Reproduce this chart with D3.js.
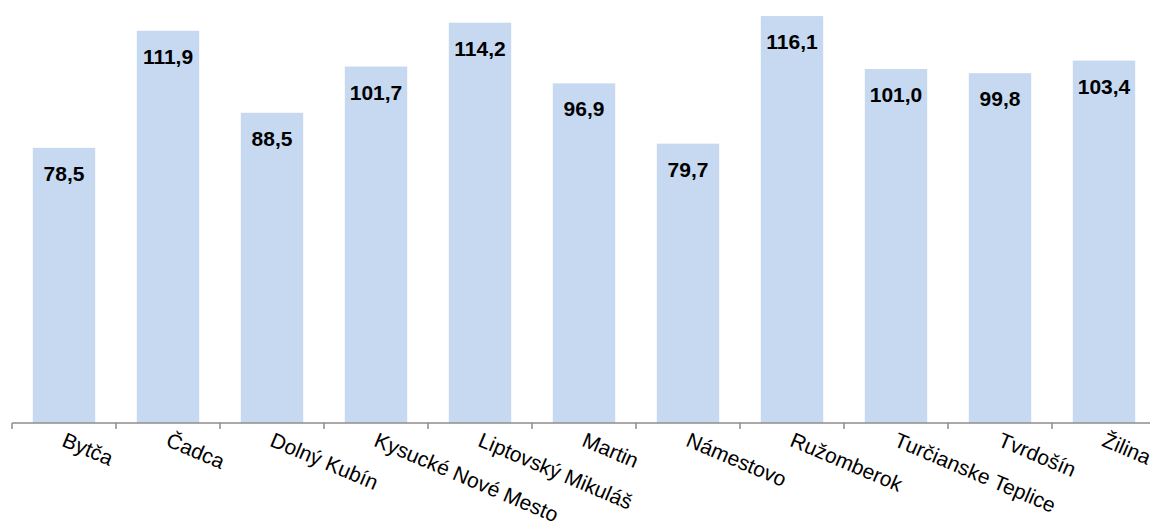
<!DOCTYPE html>
<html>
<head>
<meta charset="utf-8">
<script src="https://cdn.jsdelivr.net/npm/d3@7/dist/d3.min.js"></script>
<style>
  html, body { margin: 0; padding: 0; background: #fff; }
  svg { display: block; }
</style>
</head>
<body>
<svg id="chart" width="1150" height="523"></svg>
<script>
const categories = ["Bytča", "Čadca", "Dolný Kubín", "Kysucké Nové Mesto", "Liptovský Mikuláš", "Martin", "Námestovo", "Ružomberok", "Turčianske Teplice", "Tvrdošín", "Žilina"];
const values = [78.5, 111.9, 88.5, 101.7, 114.2, 96.9, 79.7, 116.1, 101.0, 99.8, 103.4];
const yDomain = [0, 120];

const svg = d3.select("#chart");
const baseY = 423;
const x = d3.scaleBand().domain(categories).range([12, 1156]).paddingInner(0.4).paddingOuter(0.2);
const y = d3.scaleLinear().domain(yDomain).range([baseY, 2.4]);
const fmt = v => d3.format(".1f")(v).replace(".", ",");

svg.append("g").selectAll("rect").data(values).join("rect")
  .attr("x", (d, i) => x(categories[i]))
  .attr("y", d => y(d))
  .attr("width", x.bandwidth())
  .attr("height", d => y(0) - y(d))
  .attr("fill", "#c6d9f1");

svg.append("g").selectAll("text").data(values).join("text")
  .attr("x", (d, i) => x(categories[i]) + x.bandwidth() / 2)
  .attr("y", d => y(d) + 33)
  .attr("text-anchor", "middle")
  .attr("font-family", "Liberation Sans, Arial, sans-serif")
  .attr("font-weight", "bold")
  .attr("font-size", 21)
  .attr("fill", "#000")
  .text(d => fmt(d));

// axis
const step = x.step();
const axis = svg.append("g");
axis.append("line").attr("x1", 12).attr("x2", 1156).attr("y1", baseY).attr("y2", baseY)
  .attr("stroke", "#8c8c8c").attr("stroke-width", 1.5);
const boundaries = categories.map((c, i) => x(c) - x.paddingOuter() * step).concat([1156]);
axis.selectAll("line.tick").data(boundaries).join("line").attr("class", "tick")
  .attr("x1", d => d).attr("x2", d => d).attr("y1", baseY).attr("y2", baseY + 6)
  .attr("stroke", "#8c8c8c").attr("stroke-width", 1.5);

axis.selectAll("text").data(categories).join("text")
  .attr("transform", d => `translate(${x(d) + x.bandwidth() / 2 + 3},${baseY + 8}) rotate(23)`)
  .attr("dy", "0.75em")
  .attr("text-anchor", "start")
  .attr("font-family", "Liberation Sans, Arial, sans-serif")
  .attr("font-size", 21)
  .attr("fill", "#000")
  .text(d => d);
</script>
</body>
</html>
